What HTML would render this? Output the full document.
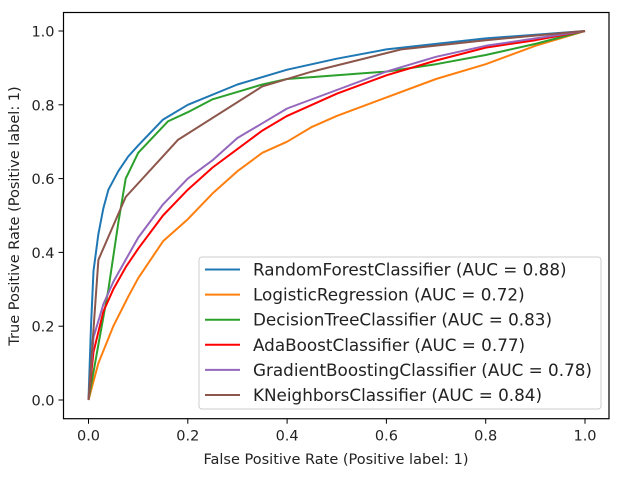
<!DOCTYPE html>
<html><head><meta charset="utf-8"><style>
body{margin:0;background:#fff;font-family:"DejaVu Sans","Liberation Sans",sans-serif}
svg text{font-family:"DejaVu Sans","Liberation Sans",sans-serif;fill:#222}
</style></head><body>
<svg id="chart" width="630" height="480"></svg>
<script>
const xTicks=[0,0.2,0.4,0.6,0.8,1.0];
const yTicks=[0,0.2,0.4,0.6,0.8,1.0];
const seriesNames=["RandomForestClassifier (AUC = 0.88)","LogisticRegression (AUC = 0.72)","DecisionTreeClassifier (AUC = 0.83)","AdaBoostClassifier (AUC = 0.77)","GradientBoostingClassifier (AUC = 0.78)","KNeighborsClassifier (AUC = 0.84)"];
const seriesColors=["#1f77b4","#ff7f0e","#2ca02c","#ff0000","#9467bd","#8c564b"];
const rfFpr=[0,0.005,0.01,0.02,0.03,0.04,0.06,0.08,0.1,0.15,0.2,0.3,0.4,0.5,0.6,0.7,0.8,0.9,1];
const rfTpr=[0,0.2,0.35,0.45,0.52,0.57,0.62,0.66,0.69,0.76,0.8,0.855,0.895,0.925,0.95,0.965,0.98,0.99,1];
const lrFpr=[0,0.02,0.05,0.08,0.1,0.15,0.2,0.25,0.3,0.35,0.4,0.45,0.5,0.6,0.7,0.8,0.9,1];
const lrTpr=[0,0.1,0.2,0.28,0.33,0.43,0.49,0.56,0.62,0.67,0.7,0.74,0.77,0.82,0.87,0.91,0.96,1];
const dtFpr=[0,0.02,0.04,0.06,0.075,0.1,0.16,0.2,0.25,0.3,0.35,0.4,0.5,0.55,0.6,0.7,0.8,0.9,1];
const dtTpr=[0,0.15,0.3,0.48,0.6,0.67,0.755,0.78,0.815,0.835,0.855,0.87,0.88,0.885,0.89,0.91,0.935,0.965,1];
const adaFpr=[0,0.01,0.03,0.05,0.075,0.1,0.15,0.2,0.25,0.3,0.35,0.4,0.5,0.6,0.7,0.8,0.9,1];
const adaTpr=[0,0.13,0.24,0.3,0.36,0.41,0.5,0.57,0.63,0.68,0.73,0.77,0.83,0.88,0.92,0.955,0.975,1];
const gbFpr=[0,0.01,0.03,0.05,0.075,0.1,0.15,0.2,0.25,0.3,0.35,0.4,0.5,0.6,0.7,0.8,0.9,1];
const gbTpr=[0,0.17,0.26,0.32,0.38,0.44,0.53,0.6,0.65,0.71,0.75,0.79,0.84,0.89,0.93,0.96,0.98,1];
const knFpr=[0,0.02,0.075,0.18,0.35,0.45,0.63,0.8,1];
const knTpr=[0,0.38,0.55,0.705,0.85,0.89,0.95,0.975,1];
const seriesX=[rfFpr,lrFpr,dtFpr,adaFpr,gbFpr,knFpr];
const seriesY=[rfTpr,lrTpr,dtTpr,adaTpr,gbTpr,knTpr];
const seriesKeys=["random-forest","logistic-regression","decision-tree","adaboost","gradient-boosting","kneighbors"];

const NS="http://www.w3.org/2000/svg";
const svg=document.getElementById("chart");
const X0=88.5,XW=496.5,Y0=400,YH=369;
const L=63.5,R=609,T=12.5,B=418.7;
function sx(v){return X0+v*XW;}
function sy(v){return Y0-v*YH;}
function el(tag,attrs,parent){const e=document.createElementNS(NS,tag);for(const k in attrs)e.setAttribute(k,attrs[k]);(parent||svg).appendChild(e);return e;}

seriesX.forEach((xs,i)=>{
  const d=xs.map((x,j)=>(j?"L":"M")+sx(x).toFixed(1)+","+sy(seriesY[i][j]).toFixed(1)).join("");
  const p=el("path",{d:d,fill:"none",stroke:seriesColors[i],"stroke-width":2,"stroke-linejoin":"round"});
  
  
});
const fr=el("rect",{x:L,y:T,width:R-L,height:B-T,fill:"none",stroke:"#000","stroke-width":1.2});


xTicks.forEach(v=>{
  const g=el("g",{});
  
  
  el("line",{x1:sx(v),x2:sx(v),y1:B,y2:B+5,stroke:"#000"},g);
  const t=el("text",{x:sx(v),y:B+22,"text-anchor":"middle","font-size":"14.5"},g);
  t.textContent=v.toFixed(1);
});
yTicks.forEach(v=>{
  const g=el("g",{});
  
  
  el("line",{x1:L-5,x2:L,y1:sy(v),y2:sy(v),stroke:"#000"},g);
  const t=el("text",{x:L-9,y:sy(v)+5.5,"text-anchor":"end","font-size":"14.5"},g);
  t.textContent=v.toFixed(1);
});
const xl=el("text",{x:336,y:464,"text-anchor":"middle","font-size":"14.5"});
xl.textContent="False Positive Rate (Positive label: 1)";


const yl=el("text",{x:0,y:0,"text-anchor":"middle","font-size":"14.5",transform:"translate(19,216) rotate(-90)"});
yl.textContent="True Positive Rate (Positive label: 1)";


const lg=el("g",{});


el("rect",{x:199,y:257,width:402,height:152,rx:3,fill:"#fff","fill-opacity":0.85,stroke:"#ccc"},lg);
seriesNames.forEach((n,i)=>{
  const g=el("g",{},lg);
  
  
  const y=269.5+i*25.1;
  el("line",{x1:205,x2:240,y1:y,y2:y,stroke:seriesColors[i],"stroke-width":2},g);
  const t=el("text",{x:253,y:y+6,"font-size":"16.8"},g);
  t.textContent=n;
});
</script>
</body></html>
